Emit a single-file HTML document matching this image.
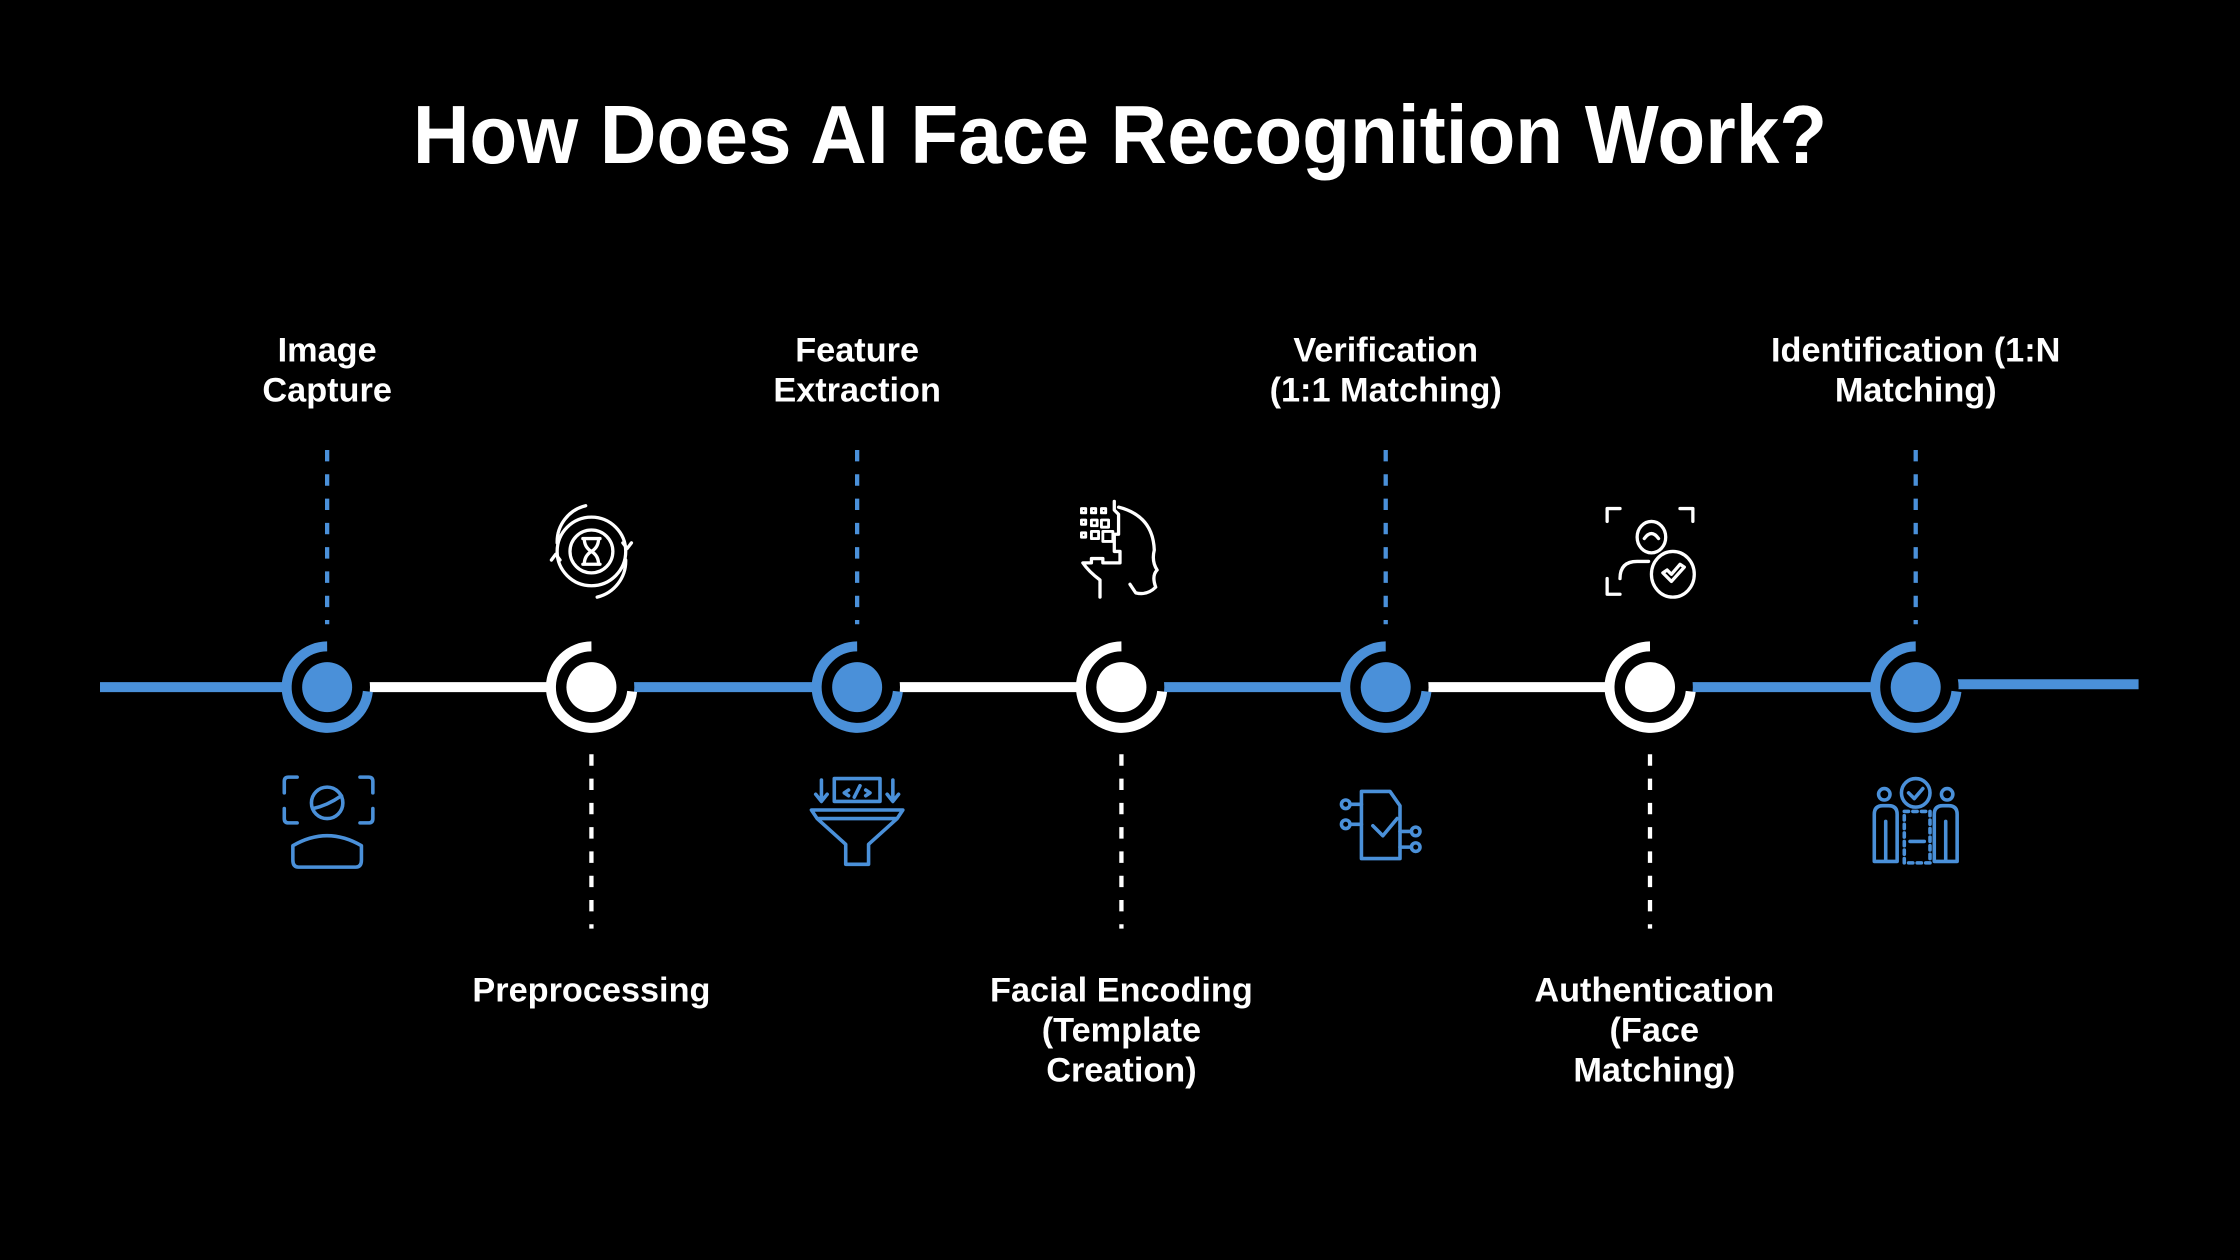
<!DOCTYPE html>
<html><head><meta charset="utf-8"><style>
html,body{margin:0;padding:0;background:#000;}
svg{display:block;}
text{font-family:"Liberation Sans",sans-serif;font-weight:bold;fill:#fff;text-anchor:middle;}
</style></head><body>
<svg width="2240" height="1260" viewBox="0 0 1568 882" xmlns="http://www.w3.org/2000/svg">
<rect width="1568" height="882" fill="#000"/>
<text x="784" y="114" font-size="58" textLength="990" lengthAdjust="spacingAndGlyphs">How Does AI Face Recognition Work?</text>

<g stroke-width="7">
<line x1="70" y1="481" x2="229" y2="481" stroke="#4a90d9"/>
<line x1="229" y1="481" x2="414" y2="481" stroke="#fff"/>
<line x1="414" y1="481" x2="600" y2="481" stroke="#4a90d9"/>
<line x1="600" y1="481" x2="785" y2="481" stroke="#fff"/>
<line x1="785" y1="481" x2="970" y2="481" stroke="#4a90d9"/>
<line x1="970" y1="481" x2="1155" y2="481" stroke="#fff"/>
<line x1="1155" y1="481" x2="1341" y2="481" stroke="#4a90d9"/>
<line x1="1341" y1="479" x2="1497" y2="479" stroke="#4a90d9"/>
</g>

<g stroke-width="3" stroke-dasharray="8 9" fill="none">
<line x1="229" y1="315" x2="229" y2="437" stroke="#4a90d9"/>
<line x1="600" y1="315" x2="600" y2="437" stroke="#4a90d9"/>
<line x1="970" y1="315" x2="970" y2="437" stroke="#4a90d9"/>
<line x1="1341" y1="315" x2="1341" y2="437" stroke="#4a90d9"/>
<line x1="414" y1="528" x2="414" y2="650" stroke="#fff"/>
<line x1="785" y1="528" x2="785" y2="650" stroke="#fff"/>
<line x1="1155" y1="528" x2="1155" y2="650" stroke="#fff"/>
</g>

<defs>
<g id="nd">
<circle r="30" fill="#000" stroke="none"/>
<path d="M0,-28.5 A28.5,28.5 0 1 0 28.5,3" fill="none" stroke-width="7"/>
<circle r="17.5" stroke="none"/>
</g>
</defs>
<g stroke="#4a90d9" fill="#4a90d9"><use href="#nd" x="229" y="481"/><use href="#nd" x="600" y="481"/><use href="#nd" x="970" y="481"/><use href="#nd" x="1341" y="481"/></g>
<g stroke="#fff" fill="#fff"><use href="#nd" x="414" y="481"/><use href="#nd" x="785" y="481"/><use href="#nd" x="1155" y="481"/></g>

<g font-size="24">
<text x="229" y="253">Image</text><text x="229" y="281">Capture</text>
<text x="600" y="253">Feature</text><text x="600" y="281">Extraction</text>
<text x="970" y="253">Verification</text><text x="970" y="281">(1:1 Matching)</text>
<text x="1341" y="253">Identification (1:N</text><text x="1341" y="281">Matching)</text>
<text x="414" y="701">Preprocessing</text>
<text x="785" y="701">Facial Encoding</text><text x="785" y="729">(Template</text><text x="785" y="757">Creation)</text>
<text x="1158" y="701">Authentication</text><text x="1158" y="729">(Face</text><text x="1158" y="757">Matching)</text>
</g>

<g fill="none" stroke="#4a90d9" stroke-width="2.5" stroke-linecap="round" stroke-linejoin="round">
<path d="M199,555 v-8 q0,-3 3,-3 h6 M252,544 h6 q3,0 3,3 v8 M199,566 v7 q0,3 3,3 h6 M252,576 h6 q3,0 3,-3 v-7"/>
<circle cx="229" cy="562" r="11"/><path d="M219,566 q10,-2 20,-9"/>
<path d="M205,602 v-10 q24,-14 48,0 v10 q0,5 -4,5 h-40 q-4,0 -4,-5z"/>
<path d="M568,567 h64 l-4,6 h-56z M572,573 l20,18 v14 h16 v-14 l20,-18"/>
<rect x="584" y="545" width="32" height="16"/>
<path d="M575,546 v14 M571,556 l4,5 l4,-5 M625,546 v14 M621,556 l4,5 l4,-5"/>
<path d="M594,553 l-3,2 l3,2 M606,553 l3,2 l-3,2 M602,550 l-4,8"/>
<path d="M953,554 h20 l7,10 v37 h-27z"/>
<path d="M961,578 l7,7 l10,-12"/>
<path d="M953,563 h-8 M953,577 h-8 M980,582 h8 M980,593 h8"/>
<circle cx="942" cy="563" r="3"/><circle cx="942" cy="577" r="3"/><circle cx="991" cy="582" r="3"/><circle cx="991" cy="593" r="3"/>
<circle cx="1341" cy="555" r="10"/><path d="M1336,555 l4,4 l6,-7"/>
<circle cx="1319" cy="556" r="4"/><circle cx="1363" cy="556" r="4"/>
<path d="M1312,603 v-33 q0,-6 6,-6 h4 q6,0 6,6 v33 h-16z M1320,603 v-28"/>
<path d="M1354,603 v-33 q0,-6 6,-6 h4 q6,0 6,6 v33 h-16z M1362,603 v-28"/>
<rect x="1333" y="568" width="18" height="36" stroke-dasharray="3 3"/>
<path d="M1337,589 h10"/>
</g>

<g fill="none" stroke="#fff" stroke-width="2.3" stroke-linecap="round" stroke-linejoin="round">
<circle cx="414" cy="386" r="24"/>
<circle cx="414" cy="386" r="15"/>
<path d="M390,380 a26,26 0 0 1 20,-26 M438,392 a26,26 0 0 1 -20,26 M386,392 l3,-4 l3,4 M442,380 l-3,4 l-3,-4"/>
<path d="M408,377 h12 M408,395 h12 M409,377 q0,6 5,9 q5,-3 5,-9 M409,395 q0,-6 5,-9 q5,3 5,9"/>
<path d="M783,355 q24,6 25,30 q-2,8 2,14 q-4,4 -1,12 q-6,6 -14,4 l-4,-6 M770,418 v-12 q-8,-6 -12,-12 h6 v-3 h8 v3 h12 v-8 h-4 v-12 h3 v-14 l-3,-3 v-6"/>
<g stroke-width="2"><rect x="757" y="356" width="3" height="3"/><rect x="764" y="356" width="3" height="3"/><rect x="771" y="356" width="3" height="3"/>
<rect x="757" y="364" width="3" height="3"/><rect x="764" y="364" width="4" height="4"/><rect x="771" y="364" width="5" height="5"/>
<rect x="757" y="373" width="3" height="3"/><rect x="764" y="372" width="5" height="5"/><rect x="772" y="372" width="7" height="7"/></g>
<path d="M1125,365 v-9 h9 M1176,356 h9 v9 M1125,405 v11 h9"/>
<ellipse cx="1156" cy="376" rx="10" ry="11"/><path d="M1151,377 q5,-7 10,0"/>
<path d="M1134,405 q0,-12 12,-12 h8"/>
<ellipse cx="1171" cy="402" rx="15" ry="16"/>
<path d="M1164,401 l6,6 l9,-10 l-3,-2 l-6,7 l-3,-3z"/>
</g>
</svg>
</body></html>
